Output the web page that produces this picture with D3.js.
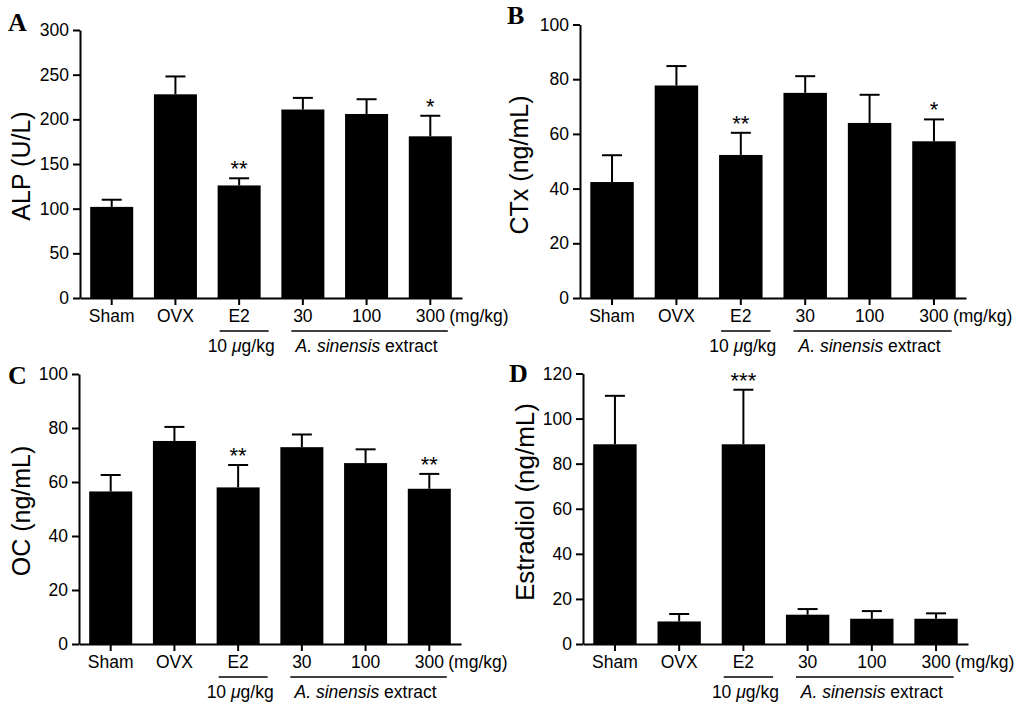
<!DOCTYPE html>
<html>
<head>
<meta charset="utf-8">
<script src="https://cdn.jsdelivr.net/npm/d3@7"></script>
<style>
  body { margin: 0; background: #fff; }
  text { font-family: Arial, "Liberation Sans", sans-serif; }
</style>
</head>
<body>
<div id="chart"></div>
<script>
const groups = ["Sham", "OVX", "E2", "30", "100", "300"];

// values (mean and upper error bar length)
const alpMean = [102, 228, 126, 211, 206, 181];
const alpErr  = [8, 20, 8, 13, 16.5, 23];
const alpSig  = ["", "", "**", "", "", "*"];

const ctxMean = [42.4, 77.7, 52.3, 75, 64, 57.3];
const ctxErr  = [9.8, 7.1, 8.1, 6.1, 10.3, 8];
const ctxSig  = ["", "", "**", "", "", "*"];

const ocMean = [56.5, 75.2, 58, 72.9, 67, 57.5];
const ocErr  = [6.1, 5.2, 8.3, 4.7, 5.1, 5.5];
const ocSig  = ["", "", "**", "", "", "**"];

const e2Mean = [88.6, 10, 88.6, 13, 11.2, 11.2];
const e2Err  = [21.5, 3.3, 24.2, 2.5, 3.4, 2.4];
const e2Sig  = ["", "", "***", "", "", ""];

const alpTicks = [0, 50, 100, 150, 200, 250, 300];
const hundredTicks = [0, 20, 40, 60, 80, 100];
const e2Ticks = [0, 20, 40, 60, 80, 100, 120];

let width = 1024, height = 710;

let svg = d3.select('#chart')
  .append('svg')
  .attr('width', width)
  .attr('height', height);

function drawPanel(p) {
  let g = svg.append('g');

  let xscale = d3.scaleBand()
    .domain(groups)
    .range([p.x0, p.x1])
    .paddingInner(0.325)
    .paddingOuter(0.16);

  let yscale = d3.scaleLinear()
    .domain([0, p.ymax])
    .range([p.y0, p.ytop]);

  let rows = groups.map((k, i) => ({ key: k, mean: p.mean[i], err: p.err[i], sig: p.sig[i] }));

  // bars
  g.selectAll('rect.bar')
    .data(rows)
    .join('rect')
    .attr('class', 'bar')
    .attr('x', d => xscale(d.key))
    .attr('width', xscale.bandwidth())
    .attr('y', d => yscale(d.mean))
    .attr('height', d => yscale(0) - yscale(d.mean))
    .attr('fill', 'black');

  // error bars (upper only)
  let cx = d => xscale(d.key) + xscale.bandwidth() / 2;
  g.selectAll('line.err')
    .data(rows)
    .join('line')
    .attr('x1', cx).attr('x2', cx)
    .attr('y1', d => yscale(d.mean))
    .attr('y2', d => yscale(d.mean + d.err))
    .attr('stroke', 'black')
    .attr('stroke-width', 2);

  g.selectAll('line.cap')
    .data(rows)
    .join('line')
    .attr('x1', d => cx(d) - 10).attr('x2', d => cx(d) + 10)
    .attr('y1', d => yscale(d.mean + d.err))
    .attr('y2', d => yscale(d.mean + d.err))
    .attr('stroke', 'black')
    .attr('stroke-width', 2);

  // significance stars
  g.selectAll('text.sig')
    .data(rows.filter(d => d.sig))
    .join('text')
    .attr('x', cx)
    .attr('y', d => yscale(d.mean + d.err) - 2)
    .attr('text-anchor', 'middle')
    .style('font-size', '22px')
    .text(d => d.sig);

  // axes
  let yAxis = g.append('g')
    .attr('transform', `translate(${p.x0},0)`)
    .call(d3.axisLeft(yscale).tickValues(p.ticks).tickSize(7).tickSizeOuter(0).tickPadding(4));

  let xAxis = g.append('g')
    .attr('transform', `translate(0,${p.y0})`)
    .call(d3.axisBottom(xscale).tickSize(7).tickSizeOuter(0).tickPadding(5));

  [yAxis, xAxis].forEach(a => {
    a.selectAll('path, line').attr('stroke', 'black').attr('stroke-width', 2);
    a.selectAll('text')
      .attr('fill', 'black')
      .style('font-size', '17.5px')
      .style('font-family', 'Arial, "Liberation Sans", sans-serif');
  });

  let labelBase = p.y0 + 24;

  g.append('text')
    .attr('x', cx(rows[5]) + 19)
    .attr('y', labelBase)
    .style('font-size', '17.5px')
    .text('(mg/kg)');

  // group lines under the tick labels
  let lineY = p.y0 + 33;
  g.append('line')
    .attr('x1', xscale('E2') + 2)
    .attr('x2', xscale('E2') + xscale.bandwidth() + 8)
    .attr('y1', lineY).attr('y2', lineY)
    .attr('stroke', 'black').attr('stroke-width', 1.5);

  g.append('line')
    .attr('x1', xscale('30') + 10)
    .attr('x2', xscale('300') + xscale.bandwidth() - 4)
    .attr('y1', lineY).attr('y2', lineY)
    .attr('stroke', 'black').attr('stroke-width', 1.5);

  let subY = p.y0 + 54;
  let dose = g.append('text')
    .attr('x', cx(rows[2]) + 2)
    .attr('y', subY)
    .attr('text-anchor', 'middle')
    .style('font-size', '17.5px');
  dose.append('tspan').text('10 ');
  dose.append('tspan').style('font-style', 'italic').text('\u03bc');
  dose.append('tspan').text('g/kg');

  let ext = g.append('text')
    .attr('x', cx(rows[4]))
    .attr('y', subY)
    .attr('text-anchor', 'middle')
    .style('font-size', '17.5px');
  ext.append('tspan').style('font-style', 'italic').text('A. sinensis');
  ext.append('tspan').text(' extract');

  // y title
  g.append('text')
    .attr('transform', `translate(${p.titleX},${p.titleY}) rotate(-90)`)
    .attr('text-anchor', 'middle')
    .attr('dominant-baseline', 'central')
    .style('font-size', p.titleSize || '25px')
    .text(p.title);

  // panel letter
  g.append('text')
    .attr('x', p.letterX)
    .attr('y', p.letterY)
    .style('font-family', '"Liberation Serif", "Times New Roman", serif')
    .style('font-weight', 'bold')
    .style('font-size', '26px')
    .text(p.letter);
}

drawPanel({ letter: 'A', letterX: 8, letterY: 31, title: 'ALP (U/L)', titleX: 21, titleY: 166,
  x0: 80, x1: 462, y0: 298, ytop: 30, ymax: 300, ticks: alpTicks,
  mean: alpMean, err: alpErr, sig: alpSig });

drawPanel({ letter: 'B', letterX: 507, letterY: 24, title: 'CTx (ng/mL)', titleX: 519, titleY: 165,
  x0: 580, x1: 966, y0: 298, ytop: 24.5, ymax: 100, ticks: hundredTicks,
  mean: ctxMean, err: ctxErr, sig: ctxSig });

drawPanel({ letter: 'C', letterX: 8, letterY: 384, title: 'OC (ng/mL)', titleX: 21, titleY: 511,
  x0: 79, x1: 461, y0: 644, ytop: 374, ymax: 100, ticks: hundredTicks,
  mean: ocMean, err: ocErr, sig: ocSig });

drawPanel({ letter: 'D', letterX: 509, letterY: 382, title: 'Estradiol (ng/mL)', titleX: 525, titleY: 502,
  titleSize: '26px',
  x0: 583, x1: 968, y0: 644, ytop: 373.5, ymax: 120, ticks: e2Ticks,
  mean: e2Mean, err: e2Err, sig: e2Sig });
</script>
</body>
</html>
